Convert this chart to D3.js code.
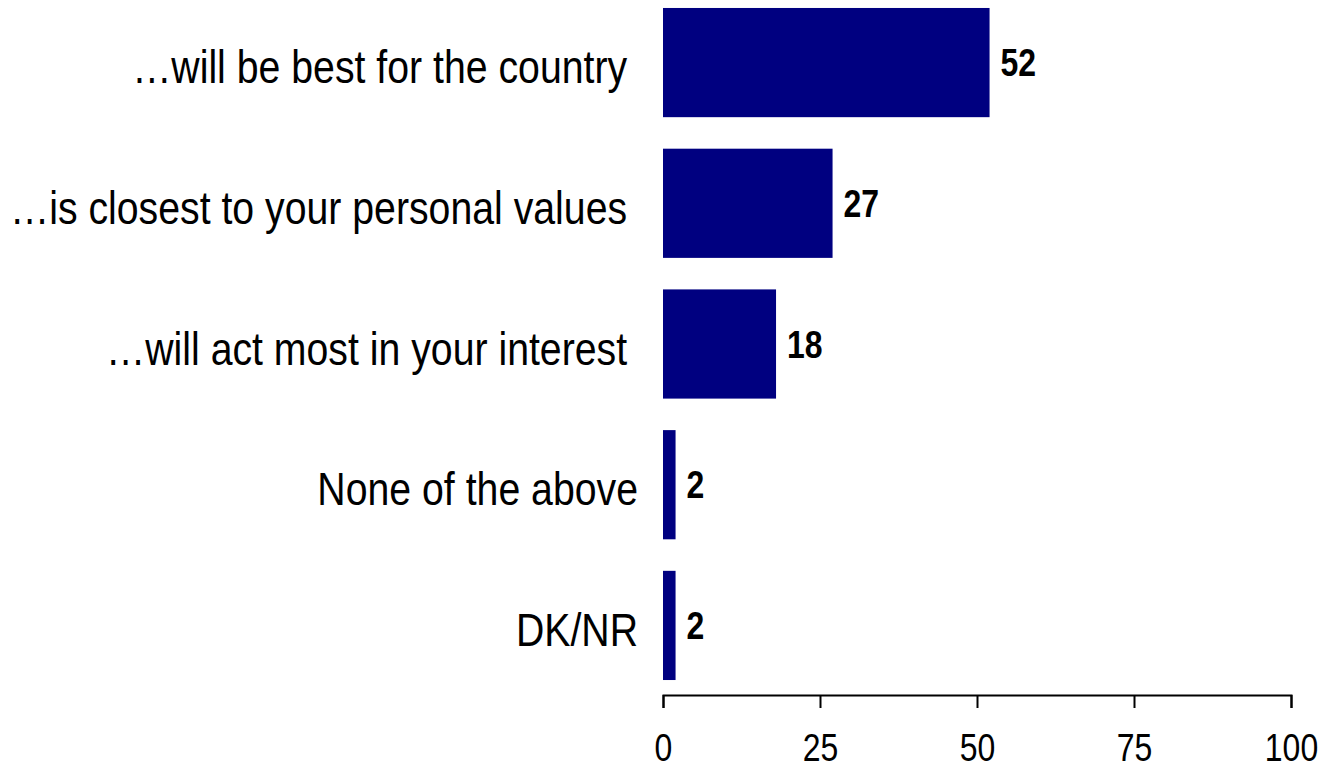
<!DOCTYPE html>
<html>
<head>
<meta charset="utf-8">
<script src="https://cdn.jsdelivr.net/npm/d3@7"></script>
<style>
  html, body { margin: 0; padding: 0; background: #fff; }
  svg { display: block; font-family: "Liberation Sans", Arial, sans-serif; }
</style>
</head>
<body>
<svg id="chart" width="1322" height="769"></svg>
<script>
const categories = [
  "\u2026will be best for the country ",
  "\u2026is closest to your personal values ",
  "\u2026will act most in your interest ",
  "None of the above",
  "DK/NR"
];
const values = [52, 27, 18, 2, 2];
const tickValues = [0, 25, 50, 75, 100];

const NARROW = 0.82;
const LABEL_NARROW = 0.835;
const svg = d3.select("#chart");
const x = d3.scaleLinear().domain([0, 100]).range([663, 1291]);
const y = d3.scaleBand().domain(categories).range([-7.5, 695.5]).paddingInner(0.224).paddingOuter(0.11);

const data = categories.map((c, i) => ({ c, v: values[i] }));

svg.append("g").selectAll("rect").data(data).join("rect")
  .attr("x", x(0))
  .attr("y", d => y(d.c))
  .attr("width", d => x(d.v) - x(0))
  .attr("height", y.bandwidth())
  .attr("fill", "#000080");

svg.append("g").selectAll("text").data(data).join("text")
  .attr("transform", d => `translate(${x(d.v) + 11},${y(d.c) + y.bandwidth() / 2}) scale(${NARROW},1)`)
  .attr("dy", "0.35em")
  .attr("font-weight", "bold")
  .attr("font-size", 39)
  .attr("fill", "#000")
  .text(d => d.v);

svg.append("g").selectAll("text").data(data).join("text")
  .attr("transform", d => `translate(638,${y(d.c) + y.bandwidth() / 2}) scale(${LABEL_NARROW},1)`)
  .attr("dy", "0.44em")
  .attr("text-anchor", "end")
  .attr("font-size", 47)
  .attr("fill", "#000")
  .style("white-space", "pre")
  .text(d => d.c);

const axis = d3.axisBottom(x).tickValues(tickValues).tickSize(13).tickPadding(0).tickSizeOuter(13);
const gx = svg.append("g").attr("transform", "translate(0,695)").call(axis);
gx.attr("font-family", null).attr("font-size", null);
gx.select(".domain").attr("stroke", "#000").attr("stroke-width", 2);
gx.selectAll(".tick line").attr("stroke", "#000").attr("stroke-width", 2);
gx.selectAll(".tick text")
  .attr("y", null)
  .attr("dy", null)
  .attr("transform", `translate(0,66) scale(${NARROW},1)`)
  .attr("font-size", 39)
  .attr("fill", "#000");
</script>
</body>
</html>
